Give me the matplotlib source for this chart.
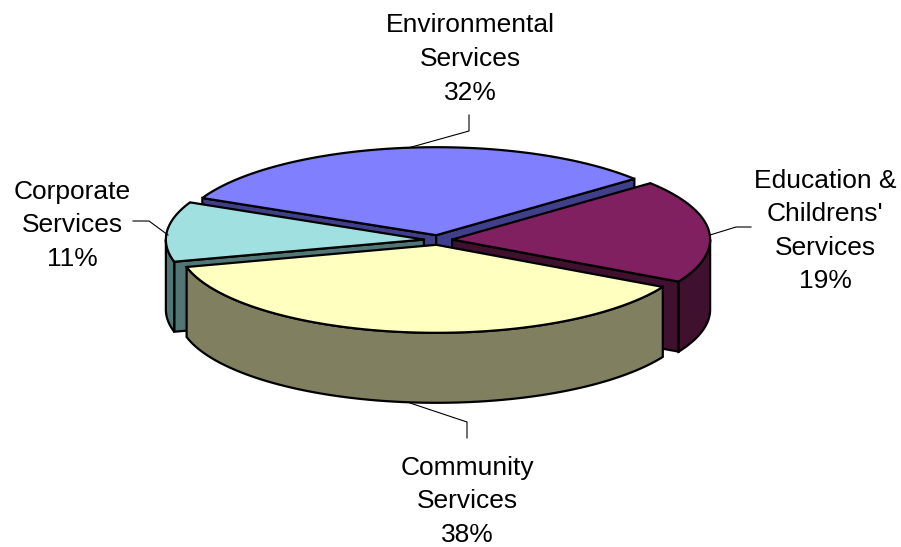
import numpy as np
import matplotlib.pyplot as plt
from matplotlib.patches import Polygon

plt.rcParams['font.family'] = ['Liberation Sans', 'DejaVu Sans']

# data
names = ['Environmental\nServices', "Education &\nChildrens'\nServices",
         'Community\nServices', 'Corporate\nServices']
shares = [32, 19, 38, 11]
top_colors = ['#8080FF', '#802060', '#FFFFC0', '#A0E0E0']
side_colors = ['#40408A', '#40102F', '#808060', '#507676']

# label placement (pixel space) and leader lines
label_pos = [(470, 59), (825, 231), (467, 501), (72, 225)]
leaders = [
    [(469, 115), (469, 131), (408, 148)],
    [(751, 227), (736, 227), (710, 235)],
    [(410, 403), (467, 422), (467, 438)],
    [(133, 221), (149, 221), (168, 235)],
]

cx, cy, rx, ry, depth = 438, 240, 258, 88, 70
explode = 0.055
start = 155.0

fig = plt.figure(figsize=(9.01, 5.47), dpi=100)
ax = fig.add_axes([0, 0, 1, 1])
ax.set_xlim(0, 901)
ax.set_ylim(547, 0)
ax.axis('off')


def rim(t, ox, oy, dz=0):
    t = np.radians(t)
    return np.column_stack([cx + ox + rx * np.cos(t), cy + oy - ry * np.sin(t) + dz])


slices = []
a = start
for i, s in enumerate(shares):
    b = a - 360.0 * s / sum(shares)
    mid = np.radians((a + b) / 2)
    ox = explode * rx * np.cos(mid)
    oy = -explode * ry * np.sin(mid)
    slices.append((i, a, b, ox, oy, np.sin(mid)))
    a = b

# back to front
order = sorted(slices, key=lambda q: -q[5])
kw = dict(edgecolor='black', linewidth=1.6, joinstyle='miter')

for i, a, b, ox, oy, _ in order:
    tip = np.array([[cx + ox, cy + oy]])
    # radial faces
    for ang, vis in ((a, np.cos(np.radians(a)) < 0), (b, np.cos(np.radians(b)) > 0)):
        if vis:
            r0 = rim(ang, ox, oy)
            quad = np.vstack([tip, r0, r0 + [0, depth], tip + [0, depth]])
            ax.add_patch(Polygon(quad, closed=True, facecolor=side_colors[i], **kw))
    # outer wall, front half only
    for k in (-1, 0, 1):
        lo = max(b, -180 + 360 * k)
        hi = min(a, 360 * k)
        if lo < hi:
            ts = np.linspace(lo, hi, 80)
            upper = rim(ts, ox, oy)
            lower = rim(ts[::-1], ox, oy, depth)
            ax.add_patch(Polygon(np.vstack([upper, lower]), closed=True,
                                 facecolor=side_colors[i], **kw))

for i, a, b, ox, oy, _ in order:
    tip = np.array([[cx + ox, cy + oy]])
    ts = np.linspace(a, b, 150)
    ax.add_patch(Polygon(np.vstack([tip, rim(ts, ox, oy)]), closed=True,
                         facecolor=top_colors[i], **kw))

for i, s in enumerate(shares):
    x, y = label_pos[i]
    ax.text(x, y, f'{names[i]}\n{s}%', ha='center', va='center',
            fontsize=19, linespacing=1.5)
    pts = np.array(leaders[i])
    ax.plot(pts[:, 0], pts[:, 1], color='black', lw=0.8)

fig.savefig('out.png', dpi=100)
